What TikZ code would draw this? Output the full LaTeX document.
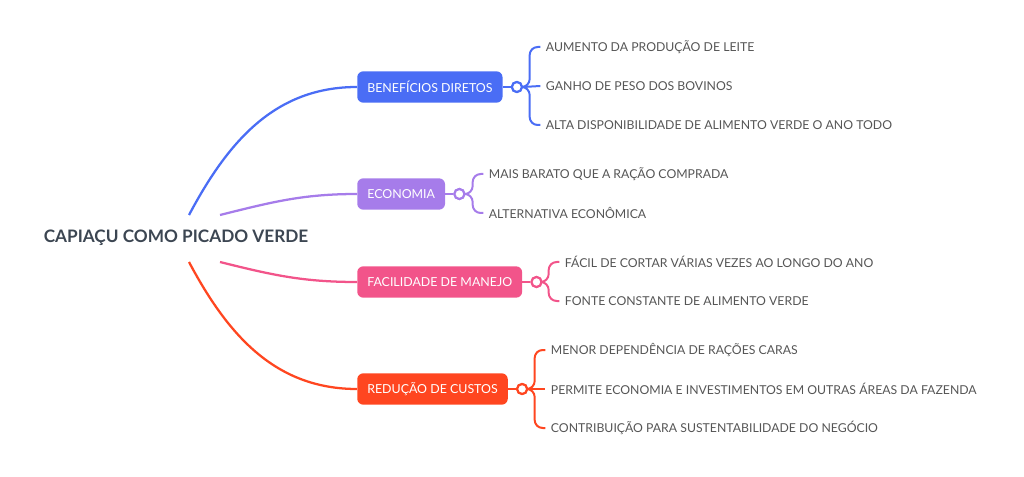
\documentclass[tikz,border=0pt]{standalone}
\usepackage{fontspec}
\setmainfont{Lato}
\usetikzlibrary{positioning, calc}
\definecolor{cblue}{HTML}{4A6DF5}
\definecolor{cpurple}{HTML}{A67CEA}
\definecolor{cpink}{HTML}{F2548A}
\definecolor{cred}{HTML}{FF4620}
\definecolor{leafgray}{HTML}{555555}
\definecolor{rootgray}{HTML}{3C4652}

\begin{document}
\begin{tikzpicture}[x=0.75pt, y=-0.75pt,
  root node/.style={font=\bfseries\fontsize{12.9}{14}\selectfont, text=rootgray, inner sep=0},
  box node/.style={rectangle, rounded corners=4.5pt, fill=#1, text=white, anchor=west,
    minimum height=23.5pt, inner xsep=7.5pt, font=\fontsize{9.3}{11}\selectfont},
  knot/.style={circle, draw=#1, fill=white, line width=1.6pt, inner sep=0pt, minimum size=7.5pt},
  leaf node/.style={text=leafgray, inner xsep=2pt, anchor=west, font=\fontsize{9.2}{11}\selectfont},
  branch/.style={draw=#1, line width=1.7pt},
  twig/.style={draw=#1, line width=1.5pt, rounded corners=6pt}]
  \useasboundingbox (0,0) rectangle (1024,477);
  % centre
  \node[root node] (root) at (176,238) {CAPIAÇU COMO PICADO VERDE};
  \coordinate (r1) at (189,215);
  \coordinate (r2) at (220,215);
  \coordinate (r3) at (220,262);
  \coordinate (r4) at (189,262);
  % main topics
  \node[box node=cblue] (t1) at (357,87) {BENEFÍCIOS DIRETOS};
  \node[box node=cpurple] (t2) at (357,194) {ECONOMIA};
  \node[box node=cpink] (t3) at (357,282) {FACILIDADE DE MANEJO};
  \node[box node=cred] (t4) at (357,389) {REDUÇÃO DE CUSTOS};
  \node[knot=cblue, right=6pt of t1] (k1) {};
  \node[knot=cpurple, right=6pt of t2] (k2) {};
  \node[knot=cpink, right=6pt of t3] (k3) {};
  \node[knot=cred, right=6pt of t4] (k4) {};
  % leaves
  \node[leaf node] (l11) at (543,47) {AUMENTO DA PRODUÇÃO DE LEITE};
  \node[leaf node] (l12) at (543,86) {GANHO DE PESO DOS BOVINOS};
  \node[leaf node] (l13) at (543,125) {ALTA DISPONIBILIDADE DE ALIMENTO VERDE O ANO TODO};
  \node[leaf node] (l21) at (486,174) {MAIS BARATO QUE A RAÇÃO COMPRADA};
  \node[leaf node] (l22) at (486,213) {ALTERNATIVA ECONÔMICA};
  \node[leaf node] (l31) at (562,262) {FÁCIL DE CORTAR VÁRIAS VEZES AO LONGO DO ANO};
  \node[leaf node] (l32) at (562,301) {FONTE CONSTANTE DE ALIMENTO VERDE};
  \node[leaf node] (l41) at (548,350) {MENOR DEPENDÊNCIA DE RAÇÕES CARAS};
  \node[leaf node] (l42) at (548,389) {PERMITE ECONOMIA E INVESTIMENTOS EM OUTRAS ÁREAS DA FAZENDA};
  \node[leaf node] (l43) at (548,428) {CONTRIBUIÇÃO PARA SUSTENTABILIDADE DO NEGÓCIO};
  % branches from centre
  \draw[branch=cblue] (r1) to[out=62, in=180] (t1.west);
  \draw[branch=cpurple] (r2) to[out=14, in=180] (t2.west);
  \draw[branch=cpink] (r3) to[out=-14, in=180] (t3.west);
  \draw[branch=cred] (r4) to[out=-62, in=180] (t4.west);
  \draw[branch=cblue] (t1) -- (k1);
  \draw[branch=cpurple] (t2) -- (k2);
  \draw[branch=cpink] (t3) -- (k3);
  \draw[branch=cred] (t4) -- (k4);
  % twigs to leaves
  \draw[twig=cblue] (k1.east) -| ([xshift=-10pt]l11.west) -- ([xshift=-2pt]l11.west);
  \draw[twig=cblue] (k1.east) -- ([xshift=-2pt]l12.west);
  \draw[twig=cblue] (k1.east) -| ([xshift=-10pt]l13.west) -- ([xshift=-2pt]l13.west);
  \draw[twig=cpurple] (k2.east) -| ([xshift=-10pt]l21.west) -- ([xshift=-2pt]l21.west);
  \draw[twig=cpurple] (k2.east) -| ([xshift=-10pt]l22.west) -- ([xshift=-2pt]l22.west);
  \draw[twig=cpink] (k3.east) -| ([xshift=-10pt]l31.west) -- ([xshift=-2pt]l31.west);
  \draw[twig=cpink] (k3.east) -| ([xshift=-10pt]l32.west) -- ([xshift=-2pt]l32.west);
  \draw[twig=cred] (k4.east) -| ([xshift=-10pt]l41.west) -- ([xshift=-2pt]l41.west);
  \draw[twig=cred] (k4.east) -- ([xshift=-2pt]l42.west);
  \draw[twig=cred] (k4.east) -| ([xshift=-10pt]l43.west) -- ([xshift=-2pt]l43.west);
  % redraw knots on top
  \node[knot=cblue] at (k1) {};
  \node[knot=cpurple] at (k2) {};
  \node[knot=cpink] at (k3) {};
  \node[knot=cred] at (k4) {};
\end{tikzpicture}
\end{document}
